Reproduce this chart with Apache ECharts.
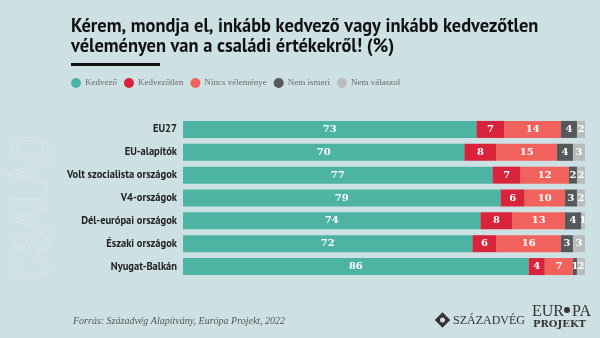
<!DOCTYPE html>
<html><head><meta charset="utf-8">
<script src="https://cdn.jsdelivr.net/npm/echarts@6/dist/echarts.min.js"></script>
<style>html,body{margin:0;padding:0;background:#cde0e3;}#c{width:600px;height:338px;}</style>
</head><body><div id="c"></div>
<script>
const categories = ["EU27","EU-alapítók","Volt szocialista országok","V4-országok","Dél-európai országok","Északi országok","Nyugat-Balkán"];
const seriesNames = ["Kedvező","Kedvezőtlen","Nincs véleménye","Nem ismeri","Nem válaszol"];
const kedvezo = [73,70,77,79,74,72,86];
const kedvezotlen = [7,8,7,6,8,6,4];
const nincs = [14,15,12,10,13,16,7];
const nemIsmeri = [4,4,2,3,4,3,1];
const nemValaszol = [2,3,2,2,1,3,2];
const colors = ["#4db3a3","#d9233a","#f2625c","#56595b","#b9bcbd"];
const values = [kedvezo,kedvezotlen,nincs,nemIsmeri,nemValaszol];

const chart = echarts.init(document.getElementById('c'));
const narrow = '"Liberation Sans Narrow","PT Sans","Roboto",sans-serif';
chart.setOption({
  backgroundColor:'#cde0e3',
  animation:false,
  title:{
    text:'Kérem, mondja el, inkább kedvező vagy inkább kedvezőtlen\nvéleményen van a családi értékekről! (%)',
    left:66, top:12,
    textStyle:{fontFamily:narrow,fontWeight:'bold',fontSize:18.4,lineHeight:20,color:'#111'}
  },
  legend:{
    left:66, top:73, icon:'circle', itemWidth:10, itemHeight:10, itemGap:7,
    data:seriesNames,
    textStyle:{fontFamily:'"Liberation Serif",serif',fontSize:9,color:'#6a6a6a',padding:[0,0,0,-1]}
  },
  grid:{left:183,right:15,top:118,height:160},
  xAxis:{type:'value',min:0,max:100,show:false},
  yAxis:{type:'category',data:categories,inverse:true,
    axisLine:{show:false},axisTick:{show:false},
    axisLabel:{fontFamily:narrow,fontWeight:'bold',fontSize:10.5,color:'#222',margin:6}},
  series: seriesNames.map((n,i)=>({
    name:n,type:'bar',stack:'t',data:values[i],barWidth:17,
    itemStyle:{color:colors[i]},
    label:{show:true,position:'inside',color:'#fff',fontFamily:'"DejaVu Serif",serif',fontWeight:'bold',fontSize:10}
  })),
  graphic:[
    {type:'rect',shape:{x:71,y:63,width:89,height:3},style:{fill:'#111'}},
    {type:'text',x:34,y:208,rotation:Math.PI/2,scaleX:0.7,
      style:{text:'CSALÁD',font:'52px "Liberation Sans",sans-serif',fill:'rgba(0,0,0,0)',stroke:'#dce8ea',lineWidth:0.9,
      align:'center',verticalAlign:'middle'}},
    {type:'text',x:73,y:321,style:{text:'Forrás: Századvég Alapítvány, Európa Projekt, 2022',
      font:'italic 10px "Liberation Serif",serif',fill:'#555',verticalAlign:'middle'}},
    {type:'rect',x:442.5,y:320,rotation:Math.PI/4,shape:{x:-5.5,y:-5.5,width:11,height:11},style:{fill:'#333'}},
    {type:'circle',shape:{cx:442.5,cy:320,r:2.5},style:{fill:'#cde0e3'}},
    {type:'text',x:453,y:321,style:{text:'SZÁZADVÉG',font:'12px "Liberation Serif",serif',fill:'#333',verticalAlign:'middle'}},
    {type:'text',x:532,y:312,style:{text:'EUR  PA',font:'16px "Liberation Serif",serif',fill:'#333',verticalAlign:'middle'}},
    {type:'circle',shape:{cx:567,cy:310,r:3},style:{fill:'#333'}},
    {type:'text',x:533,y:324,style:{text:'PROJEKT',font:'bold 10px "DejaVu Serif",serif',fill:'#333',verticalAlign:'middle'}}
  ]
});
</script></body></html>
